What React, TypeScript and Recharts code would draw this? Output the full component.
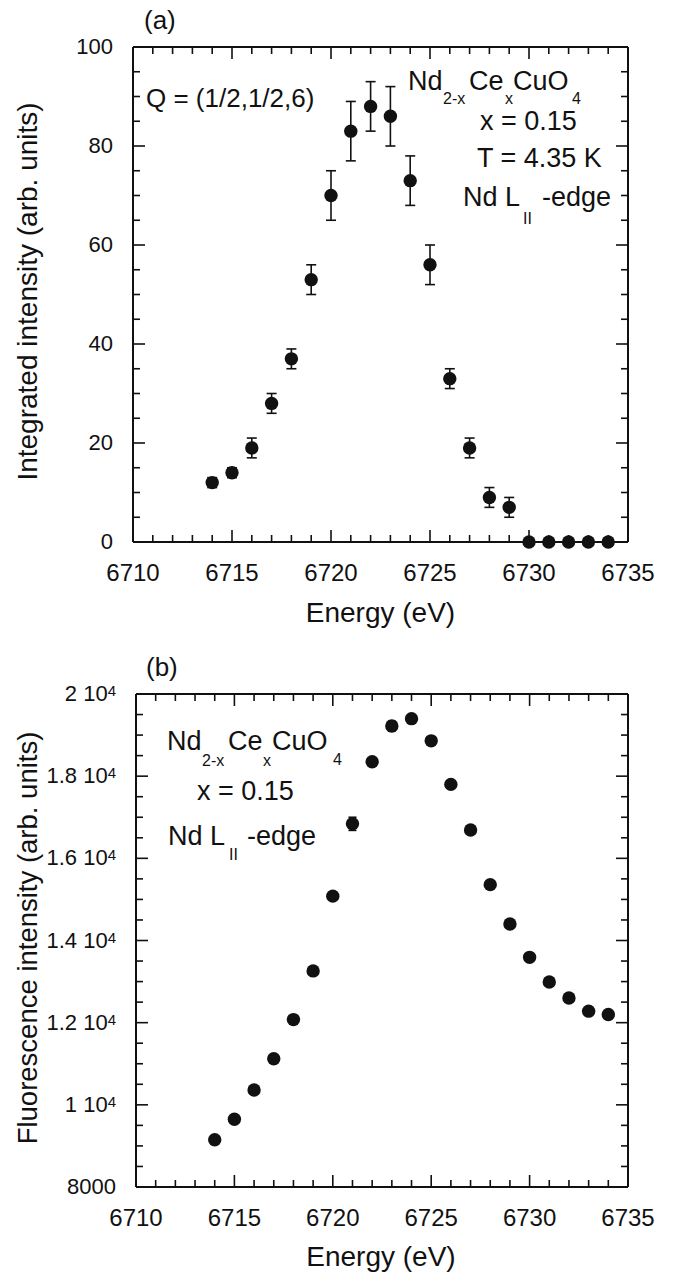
import React from "react";
import { ErrorBar, Scatter, ScatterChart, XAxis, YAxis } from "recharts";

const energies = [
  6714, 6715, 6716, 6717, 6718, 6719, 6720, 6721, 6722, 6723, 6724,
  6725, 6726, 6727, 6728, 6729, 6730, 6731, 6732, 6733, 6734,
];
const integratedIntensity = [
  12, 14, 19, 28, 37, 53, 70, 83, 88, 86, 73, 56, 33, 19, 9, 7, 0, 0, 0, 0, 0,
];
const integratedError = [
  1, 1, 2, 2, 2, 3, 5, 6, 5, 6, 5, 4, 2, 2, 2, 2, 0, 0, 0, 0, 0,
];
const fluorescence = [
  9150, 9650, 10360, 11120, 12075, 13260, 15080, 16840, 18350, 19220, 19400,
  18860, 17800, 16690, 15360, 14400, 13590, 12990, 12600, 12280, 12200,
];
const fluorescenceError = [
  0, 0, 0, 0, 0, 0, 0, 160, 0, 120, 0, 0, 0, 0, 0, 0, 0, 0, 0, 0, 0,
];

// Axis ticks and labels.
const energyLabels = [6710, 6715, 6720, 6725, 6730, 6735];
const intensityLabels = [0, 20, 40, 60, 80, 100];
const fluoLabels = [8000, 10000, 12000, 14000, 16000, 18000, 20000];
const fluoMantissa = ["8000", "1 10", "1.2 10", "1.4 10", "1.6 10", "1.8 10", "2 10"];
const fluoExponent = ["", "4", "4", "4", "4", "4", "4"];

function range(start: number, end: number, step: number) {
  const out: number[] = [];
  for (let v = start; v <= end + 1e-9; v += step) out.push(v);
  return out;
}

const energyTicks = range(6710, 6735, 1);
const intensityTicks = range(0, 100, 5);
const fluoTicks = range(8000, 20000, 500);

const INK = "#111";
const FONT = "'Liberation Sans', Arial, Helvetica, sans-serif";
const W = 674;

const panelA = energies.map((x, i) => ({
  x,
  y: integratedIntensity[i],
  err: integratedError[i],
}));
const panelB = energies.map((x, i) => ({
  x,
  y: fluorescence[i],
  err: fluorescenceError[i],
}));

type Side = "bottom" | "top" | "left" | "right";

function tickRenderer(
  side: Side,
  majors: number[],
  renderLabel?: (value: number, x: number, y: number) => React.ReactNode,
) {
  return (props: any) => {
    const { x, y, payload } = props;
    const value = payload.value;
    const major = majors.includes(value);
    const len = major ? 12 : 7;
    let x2 = x;
    let y2 = y;
    if (side === "bottom") y2 = y - len;
    if (side === "top") y2 = y + len;
    if (side === "left") x2 = x + len;
    if (side === "right") x2 = x - len;
    return (
      <g>
        <line x1={x} y1={y} x2={x2} y2={y2} stroke={INK} strokeWidth={1.6} />
        {major && renderLabel ? renderLabel(value, x, y) : null}
      </g>
    );
  };
}

const energyLabel = (value: number, x: number, y: number) => (
  <text x={x} y={y + 39} textAnchor="middle" fontSize={24} fontFamily={FONT} fill={INK}>
    {value}
  </text>
);

const intensityLabel = (value: number, x: number, y: number) => (
  <text x={x - 20} y={y + 7} textAnchor="end" fontSize={22} fontFamily={FONT} fill={INK}>
    {value}
  </text>
);

const fluoLabel = (value: number, x: number, y: number) => {
  const i = fluoLabels.indexOf(value);
  return (
    <text x={x - 20} y={y + 7} textAnchor="end" fontSize={22} fontFamily={FONT} fill={INK}>
      <tspan>{fluoMantissa[i]}</tspan>
      {fluoExponent[i] ? (
        <tspan dy={-5} fontSize={15}>
          {fluoExponent[i]}
        </tspan>
      ) : null}
    </text>
  );
};

const dot = (props: any) => <circle cx={props.cx} cy={props.cy} r={6.7} fill={INK} />;
const noDot = () => <g />;

const axisLine = { stroke: INK, strokeWidth: 2 };

export default function App() {
  return (
    <div style={{ position: "absolute", left: 0, top: 0, width: W, height: 1273, background: "#fff" }}>
      <div style={{ position: "absolute", left: 0, top: 0 }}>
        <ScatterChart width={W} height={640} margin={{ top: 46, right: 45, bottom: 0, left: 0 }}>
          <XAxis
            dataKey="x"
            type="number"
            domain={[6710, 6735]}
            ticks={energyTicks}
            interval={0}
            height={98}
            tickSize={0}
            tickMargin={0}
            tickLine={false}
            axisLine={axisLine}
            tick={tickRenderer("bottom", energyLabels, energyLabel)}
          />
          <XAxis
            xAxisId="top"
            orientation="top"
            dataKey="x"
            type="number"
            domain={[6710, 6735]}
            ticks={energyTicks}
            interval={0}
            height={1}
            tickSize={0}
            tickMargin={0}
            tickLine={false}
            axisLine={axisLine}
            tick={tickRenderer("top", energyLabels)}
          />
          <YAxis
            dataKey="y"
            type="number"
            domain={[0, 100]}
            ticks={intensityTicks}
            interval={0}
            width={133}
            tickSize={0}
            tickMargin={0}
            tickLine={false}
            axisLine={axisLine}
            tick={tickRenderer("left", intensityLabels, intensityLabel)}
          />
          <YAxis
            yAxisId="right"
            orientation="right"
            dataKey="y"
            type="number"
            domain={[0, 100]}
            ticks={intensityTicks}
            interval={0}
            width={1}
            tickSize={0}
            tickMargin={0}
            tickLine={false}
            axisLine={axisLine}
            tick={tickRenderer("right", intensityLabels)}
          />
          <Scatter data={panelA} xAxisId="top" yAxisId="right" shape={noDot} isAnimationActive={false} />
          <Scatter data={panelA} shape={dot} isAnimationActive={false}>
            <ErrorBar dataKey="err" direction="y" width={5} stroke={INK} strokeWidth={1.6} isAnimationActive={false} />
          </Scatter>
        </ScatterChart>
      </div>

      <div style={{ position: "absolute", left: 0, top: 640 }}>
        <ScatterChart width={W} height={633} margin={{ top: 53, right: 45, bottom: 0, left: 0 }}>
          <XAxis
            dataKey="x"
            type="number"
            domain={[6710, 6735]}
            ticks={energyTicks}
            interval={0}
            height={86}
            tickSize={0}
            tickMargin={0}
            tickLine={false}
            axisLine={axisLine}
            tick={tickRenderer("bottom", energyLabels, energyLabel)}
          />
          <XAxis
            xAxisId="top"
            orientation="top"
            dataKey="x"
            type="number"
            domain={[6710, 6735]}
            ticks={energyTicks}
            interval={0}
            height={1}
            tickSize={0}
            tickMargin={0}
            tickLine={false}
            axisLine={axisLine}
            tick={tickRenderer("top", energyLabels)}
          />
          <YAxis
            dataKey="y"
            type="number"
            domain={[8000, 20000]}
            ticks={fluoTicks}
            interval={0}
            width={136}
            tickSize={0}
            tickMargin={0}
            tickLine={false}
            axisLine={axisLine}
            tick={tickRenderer("left", fluoLabels, fluoLabel)}
          />
          <YAxis
            yAxisId="right"
            orientation="right"
            dataKey="y"
            type="number"
            domain={[8000, 20000]}
            ticks={fluoTicks}
            interval={0}
            width={1}
            tickSize={0}
            tickMargin={0}
            tickLine={false}
            axisLine={axisLine}
            tick={tickRenderer("right", fluoLabels)}
          />
          <Scatter data={panelB} xAxisId="top" yAxisId="right" shape={noDot} isAnimationActive={false} />
          <Scatter data={panelB} shape={dot} isAnimationActive={false}>
            <ErrorBar dataKey="err" direction="y" width={4} stroke={INK} strokeWidth={1.6} isAnimationActive={false} />
          </Scatter>
        </ScatterChart>
      </div>

      <svg
        width={W}
        height={1273}
        style={{ position: "absolute", left: 0, top: 0, pointerEvents: "none" }}
        fontFamily={FONT}
        fill={INK}
      >
        {/* panel (a) */}
        <text x={144} y={29} fontSize={26}>(a)</text>
        <text x={146} y={107} fontSize={26}>Q = (1/2,1/2,6)</text>
        <text x={408} y={90} fontSize={27}>Nd</text>
        <text x={443} y={104} fontSize={16}>2-x</text>
        <text x={469} y={90} fontSize={27}>Ce</text>
        <text x={505} y={104} fontSize={16}>x</text>
        <text x={513} y={90} fontSize={27}>CuO</text>
        <text x={572} y={104} fontSize={16}>4</text>
        <text x={480} y={130} fontSize={27}>x = 0.15</text>
        <text x={477} y={167} fontSize={27}>T = 4.35 K</text>
        <text x={463} y={206} fontSize={27}>Nd L</text>
        <text x={523} y={224} fontSize={16}>II</text>
        <text x={542} y={206} fontSize={27}>-edge</text>
        <text x={380.5} y={622} fontSize={28} textAnchor="middle">Energy (eV)</text>
        <text transform="translate(37,291.5) rotate(-90)" fontSize={28} textAnchor="middle">
          Integrated intensity (arb. units)
        </text>

        {/* panel (b) */}
        <text x={146} y={676} fontSize={26}>(b)</text>
        <text x={167} y={750} fontSize={27}>Nd</text>
        <text x={202} y={766} fontSize={16}>2-x</text>
        <text x={228} y={750} fontSize={27}>Ce</text>
        <text x={263} y={766} fontSize={16}>x</text>
        <text x={272} y={750} fontSize={27}>CuO</text>
        <text x={333} y={765} fontSize={16}>4</text>
        <text x={197} y={800} fontSize={27}>x = 0.15</text>
        <text x={168} y={845} fontSize={27}>Nd L</text>
        <text x={229} y={860} fontSize={16}>II</text>
        <text x={247} y={845} fontSize={27}>-edge</text>
        <text x={381} y={1266} fontSize={28} textAnchor="middle">Energy (eV)</text>
        <text transform="translate(37,938) rotate(-90)" fontSize={27.5} textAnchor="middle">
          Fluorescence intensity (arb. units)
        </text>
      </svg>
    </div>
  );
}
